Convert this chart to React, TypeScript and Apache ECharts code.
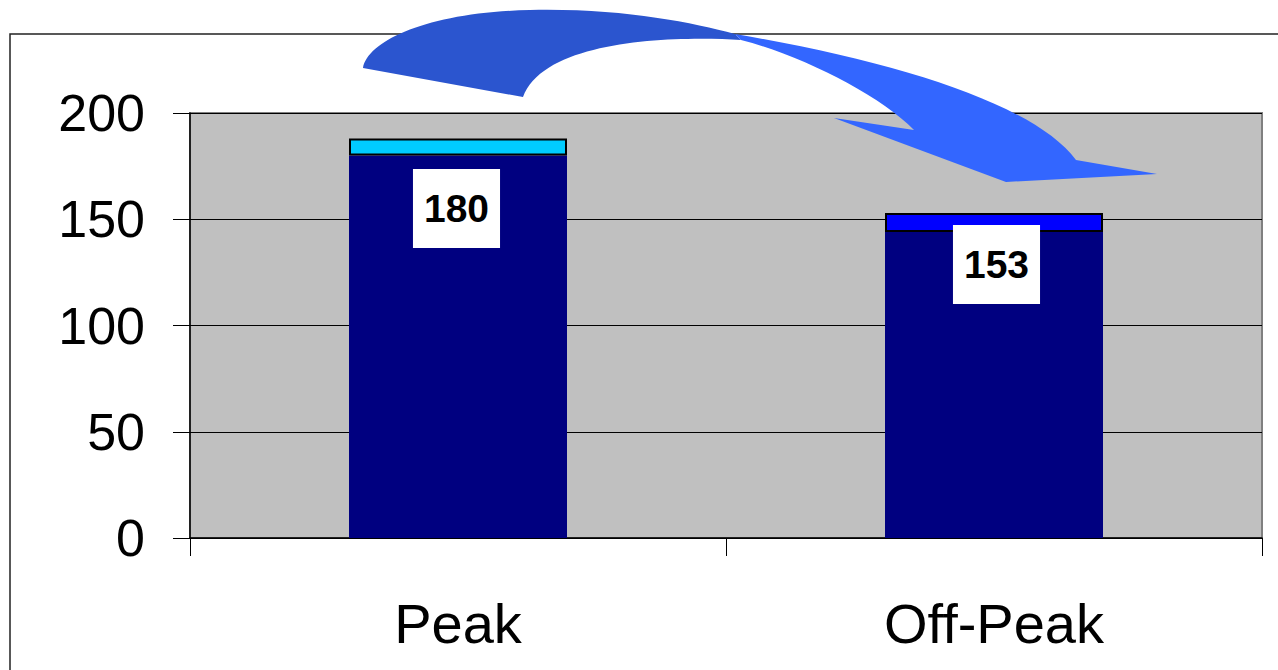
import React, { useEffect, useRef } from "react";
import * as echarts from "echarts";

const categories = ["Peak", "Off-Peak"];
const baseValues = [180, 144];
const topValues = [8, 9];
const labelTexts = ["180", "153"];
const yTicks = { min: 0, max: 200, interval: 50 };

const topColors = ["#00CCFF", "#0000FF"];
const labelOffsets = [
  [-1.5, 25.5],
  [2.5, 7],
];

const dBack =
  "M363 68 C368 40 430 12 530 10 C620 8 690 22 735 34 L741 40 C680 36 545 38 523 97 Z";
const dFront =
  "M735 34 C900 62 1035 105 1076 160 L1157 174 L1006 182 L834 118 L914 130 C880 95 800 55 741 40 Z";

echarts.graphic.registerShape("arrowBack", echarts.graphic.extendPath(dBack, {}) as any);
echarts.graphic.registerShape("arrowFront", echarts.graphic.extendPath(dFront, {}) as any);

const FONT = "'Liberation Sans', Arial, sans-serif";

export default function App() {
  const ref = useRef<HTMLDivElement>(null);
  useEffect(() => {
    if (!ref.current) return;
    const chart = echarts.init(ref.current, null, { renderer: "svg" });
    chart.setOption({
      animation: false,
      backgroundColor: "#ffffff",
      grid: {
        left: 190,
        right: 16,
        top: 113,
        bottom: 132,
        show: true,
        backgroundColor: "#C0C0C0",
        borderColor: "#808080",
        borderWidth: 2,
      },
      xAxis: {
        type: "category",
        data: categories,
        axisLine: { lineStyle: { color: "#000", width: 1.5 } },
        axisTick: { show: true, length: 18, lineStyle: { color: "#000", width: 1 } },
        axisLabel: { fontSize: 56, color: "#000", fontFamily: FONT, margin: 57 },
      },
      yAxis: {
        type: "value",
        min: yTicks.min,
        max: yTicks.max,
        interval: yTicks.interval,
        axisLine: { show: true, lineStyle: { color: "#000", width: 1.5 } },
        axisTick: { show: true, length: 17, lineStyle: { color: "#000", width: 1 } },
        axisLabel: { fontSize: 52, color: "#000", fontFamily: FONT, margin: 45 },
        splitLine: { show: true, lineStyle: { color: "#000", width: 1 } },
      },
      series: [
        {
          type: "bar",
          stack: "total",
          barWidth: 218,
          data: baseValues,
          itemStyle: { color: "#000080" },
        },
        {
          type: "bar",
          stack: "total",
          barWidth: 218,
          data: topValues.map((v, i) => ({
            value: v,
            itemStyle: { color: topColors[i], borderColor: "#000", borderWidth: 2 },
            label: {
              show: true,
              position: "insideTop",
              offset: labelOffsets[i],
              formatter: () => labelTexts[i],
            },
          })),
          label: {
            show: true,
            fontSize: 39,
            fontWeight: "bold",
            fontFamily: FONT,
            color: "#000",
            textBorderWidth: 0,
            textBorderColor: "transparent",
            backgroundColor: "#ffffff",
            padding: [20, 11],
            lineHeight: 39,
          },
        },
      ],
      graphic: [
        {
          type: "rect",
          shape: { x: 10, y: 34, width: 1400, height: 800 },
          style: { fill: "none", stroke: "#222", lineWidth: 1.5 },
          silent: true,
          z: 0,
        },
        { type: "arrowBack", x: 0, y: 0, style: { fill: "#2B55CF" }, z: 100 },
        { type: "arrowFront", x: 0, y: 0, style: { fill: "#3366FF" }, z: 100 },
      ],
    });
    return () => chart.dispose();
  }, []);
  return (
    <div
      ref={ref}
      style={{ position: "absolute", left: 0, top: 0, width: 1278, height: 670 }}
    />
  );
}
